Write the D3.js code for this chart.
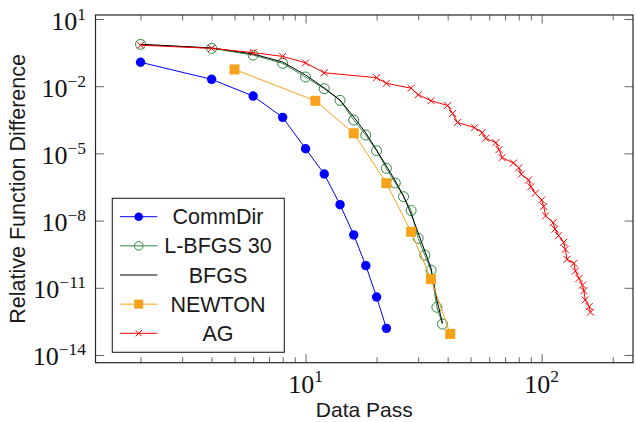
<!DOCTYPE html>
<html>
<head>
<meta charset="utf-8">
<script src="https://cdn.jsdelivr.net/npm/d3@7"></script>
<style>
  body { margin: 0; background: #fff; }
  svg { display: block; }
</style>
</head>
<body>
<div id="wrapper"></div>
<script>
// data (x = data passes, y = relative function difference)
const commDirX = [2, 4, 6, 8, 10, 12, 14, 16, 18, 20, 22]
const commDirY = [1.17e-1, 2.03e-2, 3.63e-3, 4.07e-4, 1.62e-5, 1.2e-6, 5.13e-8, 2.29e-9, 9.77e-11, 3.89e-12, 1.55e-13]

const lbfgsX = [2, 4, 6, 8, 10, 12, 14, 16, 18, 20, 22, 24, 26, 28, 30, 32, 34, 36, 38]
const lbfgsY = [7.41e-1, 4.9e-1, 2.45e-1, 1.05e-1, 2.57e-2, 7.76e-3, 2.34e-3, 3.09e-4, 6.61e-5, 1.32e-5,
  2.14e-6, 4.79e-7, 1.17e-7, 2.82e-8, 1.62e-9, 2.88e-10, 6.17e-11, 1.35e-12, 2.4e-13]

const bfgsX = [2, 4, 6, 8, 10, 12, 14, 16, 18, 20, 22, 24, 26, 28, 30, 32, 34, 36, 38]
const bfgsY = [7.41e-1, 5.13e-1, 2.75e-1, 1.2e-1, 3.16e-2, 8.32e-3, 2.4e-3, 4.22e-4, 8.13e-5, 1.41e-5,
  2.75e-6, 5.89e-7, 1.26e-7, 1.95e-8, 2.82e-9, 4.37e-10, 7.59e-11, 2.88e-12, 2.69e-13]

const newtonX = [5, 11, 16, 22, 28, 34, 41]
const newtonY = [5.62e-2, 2.24e-3, 7.94e-5, 4.68e-7, 3.16e-9, 2.45e-11, 8.71e-14]

const agX = [2, 4, 6, 8, 10, 12, 20, 22, 28, 30, 34, 40, 42, 44, 52, 56, 58, 64, 66, 68, 76, 80,
  82, 88, 90, 94, 100, 102, 104, 112, 114, 118, 124, 126, 128, 137, 139, 144, 149, 151, 153, 159, 161]
const agY = [6.76e-1, 4.9e-1, 3.16e-1, 2.14e-1, 1.1e-1, 3.98e-2, 2.4e-2, 1.35e-2, 8.13e-3, 4.17e-3,
  2.24e-3, 1.38e-3, 6.03e-4, 2.4e-4, 1.41e-4, 8.51e-5, 4.68e-5, 3.02e-5, 1.48e-5, 6.46e-6, 3.72e-6,
  2.29e-6, 1.17e-6, 6.46e-7, 3.24e-7, 1.66e-7, 8.32e-8, 4.27e-8, 1.62e-8, 8.13e-9, 4.17e-9, 2.14e-9,
  1.07e-9, 5.25e-10, 1.86e-10, 1.23e-10, 5.62e-11, 2.63e-11, 1.32e-11, 7.41e-12, 2.88e-12, 1.45e-12, 8.13e-13]

const xMajorTicks = [10, 100]
const xMinorTicks = [2, 3, 4, 5, 6, 7, 8, 9, 20, 30, 40, 50, 60, 70, 80, 90, 200]
const yMajorTicks = [1e1, 1e-2, 1e-5, 1e-8, 1e-11, 1e-14]
const xTickExp = ['1', '2']
const yTickExp = ['1', '−2', '−5', '−8', '−11', '−14']

const seriesNames = ['CommDir', 'L-BFGS 30', 'BFGS', 'NEWTON', 'AG']

const dimensions = {
  width: 636,
  height: 422,
  margin: { top: 15, right: 3, bottom: 59.3, left: 95.5 },
}
dimensions.boundedWidth = dimensions.width - dimensions.margin.left - dimensions.margin.right
dimensions.boundedHeight = dimensions.height - dimensions.margin.top - dimensions.margin.bottom

const zip = (xs, ys) => xs.map((x, i) => [x, ys[i]])

const series = [
  { name: seriesNames[0], data: zip(commDirX, commDirY), color: '#0000ff', marker: 'dot' },
  { name: seriesNames[1], data: zip(lbfgsX, lbfgsY), color: '#2a8a45', marker: 'circle' },
  { name: seriesNames[2], data: zip(bfgsX, bfgsY), color: '#000000', marker: 'none' },
  { name: seriesNames[3], data: zip(newtonX, newtonY), color: '#f7a21b', marker: 'square' },
  { name: seriesNames[4], data: zip(agX, agY), color: '#ff0000', marker: 'cross' },
]

const wrapper = d3
  .select('#wrapper')
  .append('svg')
  .attr('width', dimensions.width)
  .attr('height', dimensions.height)

const bounds = wrapper
  .append('g')
  .attr('transform', `translate(${dimensions.margin.left}, ${dimensions.margin.top})`)

// Scale
const xScale = d3
  .scaleLog()
  .domain([1.289, 243.8])
  .range([0, dimensions.boundedWidth])

const yScale = d3
  .scaleLog()
  .domain([Math.pow(10, -14.344), Math.pow(10, 1.179)])
  .range([dimensions.boundedHeight, 0])

// ticks (inward, on all four sides)
const tickColor = '#555'
const drawAxis = (generator, transform) => {
  const g = bounds.append('g').attr('transform', transform).call(generator)
  g.select('.domain').remove()
  g.selectAll('.tick line').attr('stroke', tickColor).attr('stroke-width', 0.9)
  g.selectAll('.tick text').remove()
  return g
}
const bh = dimensions.boundedHeight
const bw = dimensions.boundedWidth
drawAxis(d3.axisBottom(xScale).tickValues(xMinorTicks).tickSize(-5.5), `translate(0, ${bh})`)
drawAxis(d3.axisBottom(xScale).tickValues(xMajorTicks).tickSize(-8.5), `translate(0, ${bh})`)
drawAxis(d3.axisTop(xScale).tickValues(xMinorTicks).tickSize(-5.5), 'translate(0, 0)')
drawAxis(d3.axisTop(xScale).tickValues(xMajorTicks).tickSize(-8.5), 'translate(0, 0)')
drawAxis(d3.axisLeft(yScale).tickValues(yMajorTicks).tickSize(-8.5), 'translate(0, 0)')
drawAxis(d3.axisRight(yScale).tickValues(yMajorTicks).tickSize(-8.5), `translate(${bw}, 0)`)

// tick labels, 10^n
const serif = "'Liberation Serif', 'Times New Roman', serif"
const xLabels = bounds
  .append('g')
  .selectAll('text')
  .data(xMajorTicks)
  .enter()
  .append('text')
  .attr('x', (d) => xScale(d))
  .attr('y', bh + 30.5)
  .attr('text-anchor', 'middle')
  .style('font-family', serif)
  .style('font-size', '26px')
  .attr('fill', '#111')
xLabels.append('tspan').text('10')
xLabels
  .append('tspan')
  .attr('dy', -11)
  .style('font-size', '17.5px')
  .text((d, i) => xTickExp[i])

const yLabels = bounds
  .append('g')
  .selectAll('text')
  .data(yMajorTicks)
  .enter()
  .append('text')
  .attr('x', -9.5)
  .attr('y', (d) => yScale(d) + 10.5)
  .attr('text-anchor', 'end')
  .style('font-family', serif)
  .style('font-size', '26px')
  .attr('fill', '#111')
yLabels.append('tspan').text('10')
yLabels
  .append('tspan')
  .attr('dy', -10)
  .style('font-size', '17.5px')
  .text((d, i) => yTickExp[i])

// axis titles
const sans = "'Liberation Sans', Arial, Helvetica, sans-serif"
wrapper
  .append('text')
  .attr('x', dimensions.margin.left + bw / 2)
  .attr('y', 416.5)
  .attr('text-anchor', 'middle')
  .style('font-family', sans)
  .style('font-size', '21px')
  .attr('fill', '#1a1a1a')
  .text('Data Pass')

wrapper
  .append('text')
  .attr('transform', `translate(25, ${dimensions.margin.top + bh / 2}) rotate(-90)`)
  .attr('text-anchor', 'middle')
  .style('font-family', sans)
  .style('font-size', '21.5px')
  .attr('fill', '#1a1a1a')
  .text('Relative Function Difference')

// markers
const drawMarker = (sel, s) => {
  if (s.marker === 'dot') {
    sel.append('circle').attr('r', 4.7).attr('fill', s.color)
  } else if (s.marker === 'circle') {
    sel.append('circle').attr('r', 5).attr('fill', 'none').attr('stroke', s.color).attr('stroke-width', 1)
  } else if (s.marker === 'square') {
    sel.append('rect').attr('x', -5).attr('y', -5).attr('width', 10).attr('height', 10).attr('fill', s.color)
  } else if (s.marker === 'cross') {
    sel.append('path').attr('d', 'M-3.5,-3.5L3.5,3.5M-3.5,3.5L3.5,-3.5').attr('stroke', s.color).attr('stroke-width', 1)
  }
}

const lineGenerator = d3
  .line()
  .x((d) => xScale(d[0]))
  .y((d) => yScale(d[1]))

series.forEach((s) => {
  const g = bounds.append('g').attr('class', 'series')
  g.append('path')
    .attr('fill', 'none')
    .attr('stroke', s.color)
    .attr('stroke-width', 1)
    .attr('d', lineGenerator(s.data))
  if (s.marker !== 'none') {
    g.selectAll('.mark')
      .data(s.data)
      .enter()
      .append('g')
      .attr('class', 'mark')
      .attr('transform', (d) => `translate(${xScale(d[0])}, ${yScale(d[1])})`)
      .each(function () {
        drawMarker(d3.select(this), s)
      })
  }
})

// frame
bounds
  .append('rect')
  .attr('width', bw)
  .attr('height', bh)
  .attr('fill', 'none')
  .attr('stroke', '#262626')
  .attr('stroke-width', 1.2)

// legend
const legend = wrapper.append('g').attr('transform', 'translate(112.3, 198.3)')
legend
  .append('rect')
  .attr('width', 172)
  .attr('height', 154)
  .attr('fill', '#fff')
  .attr('stroke', '#262626')
  .attr('stroke-width', 1.1)

const legendItems = legend
  .selectAll('.item')
  .data(series)
  .enter()
  .append('g')
  .attr('class', 'item')
  .attr('transform', (d, i) => `translate(0, ${18.4 + i * 29.15})`)

legendItems
  .append('line')
  .attr('x1', 7.7)
  .attr('x2', 45)
  .attr('stroke', (d) => d.color)
  .attr('stroke-width', 1)
legendItems.each(function (s) {
  const m = d3.select(this).append('g').attr('transform', 'translate(26.4, 0)')
  if (s.marker === 'dot') m.append('circle').attr('r', 4.3).attr('fill', s.color)
  else if (s.marker === 'circle') m.append('circle').attr('r', 4.3).attr('fill', 'none').attr('stroke', s.color)
  else if (s.marker === 'square') m.append('rect').attr('x', -4.5).attr('y', -4.5).attr('width', 9).attr('height', 9).attr('fill', s.color)
  else if (s.marker === 'cross') m.append('path').attr('d', 'M-3,-3L3,3M-3,3L3,-3').attr('stroke', s.color)
})
legendItems
  .append('text')
  .attr('x', 105.7)
  .attr('y', 7.6)
  .attr('text-anchor', 'middle')
  .style('font-family', sans)
  .style('font-size', '21.5px')
  .attr('fill', '#1a1a1a')
  .text((d) => d.name)
</script>
</body>
</html>
